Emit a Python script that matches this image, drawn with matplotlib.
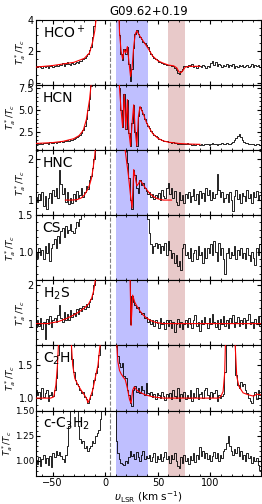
import numpy as np
import matplotlib
matplotlib.use('Agg')
import matplotlib.pyplot as plt
from matplotlib.ticker import MultipleLocator, AutoMinorLocator

# channel grid (km/s), 1.5 km/s steps
vel = np.arange(-66, 149, 1.5)

hco_spec = [1.05, 0.98, 1.08, 1.02, 0.95, 1.10, 1.00, 1.06, 0.92, 1.04, 1.12, 1.00,
            1.08, 1.15, 1.05, 1.20, 1.12, 1.25, 1.10, 1.18, 1.30, 1.22, 1.15, 1.25,
            1.20, 1.28, 1.35, 1.25, 1.40, 1.38, 1.50, 1.55, 1.70, 1.85, 2.05, 2.30,
            2.90, 3.60, 4.60, 6.0, 8.0, 9.0, 10, 10, 10, 10, 10, 10,
            10, 10, 10, 8.0, 5.5, 3.0, 1.80, 1.45, 2.15, 1.85, 2.30, 1.20,
            0.15, 0.90, 2.20, 3.10, 3.35, 3.10, 2.90, 2.75, 2.60, 2.50, 2.40, 2.25,
            2.00, 1.85, 1.70, 1.60, 1.50, 1.45, 1.35, 1.30, 1.25, 1.22, 1.18, 1.15,
            1.12, 1.15, 1.05, 1.08, 0.92, 0.80, 0.62, 0.58, 0.75, 0.90, 1.05, 1.10,
            1.02, 1.15, 1.05, 1.18, 1.00, 1.10, 0.95, 1.12, 1.05, 0.98, 1.15, 1.08,
            0.95, 1.10, 1.02, 1.25, 1.40, 1.15, 1.30, 1.05, 1.20, 1.12, 1.00, 1.15,
            1.08, 1.20, 0.98, 1.12, 1.05, 1.18, 0.95, 1.10, 1.02, 1.15, 1.05, 1.12,
            0.98, 1.10, 1.15, 1.02, 1.08, 1.20, 1.00, 1.12, 1.05, 1.15, 0.98, 1.10]
hco_fit_v = [-66, -50, -40, -30, -20, -15, -12, -10, -8, -5, 4, 10, 12, 13.5, 15, 16.5, 18, 19.5, 21,
             22.5, 24, 25.5, 27, 28.5, 30, 32, 35, 38, 41, 45, 50, 55, 60, 65, 68, 70, 72, 74, 76, 80, 90]
hco_fit = [1.0, 1.1, 1.2, 1.3, 1.55, 1.9, 2.6, 3.3, 4.5, 8, 15, 12, 6, 3.2, 2.0, 1.5, 2.1, 1.9, 2.3,
           1.3, 0.4, 1.0, 2.3, 3.1, 3.3, 3.05, 2.75, 2.45, 2.15, 1.7, 1.4, 1.25, 1.13, 1.08, 0.95, 0.7,
           0.65, 0.8, 1.0, 1.05, 1.05]

hcn_spec = [1.10, 1.18, 1.05, 1.20, 1.12, 1.25, 1.15, 1.22, 1.10, 1.28, 1.20, 1.25,
            1.30, 1.25, 1.35, 1.28, 1.40, 1.35, 1.45, 1.42, 1.50, 1.48, 1.55, 1.60,
            1.70, 1.75, 1.85, 2.00, 2.15, 2.40, 2.70, 3.20, 4.00, 5.00, 6.30, 7.80,
            9.5, 11, 13, 15, 16, 17, 17, 17, 17, 17, 17, 17,
            17, 16, 15, 14, 12, 7.5, 5.0, 3.0, 6.8, 2.8, 6.2, 2.4,
            0.85, 3.5, 5.6, 2.5, 0.85, 4.3, 5.4, 5.0, 4.5, 4.0, 3.5, 3.2,
            2.90, 2.60, 2.35, 2.15, 2.00, 1.85, 1.72, 1.62, 1.55, 1.48, 1.42, 1.38,
            1.32, 1.35, 1.25, 1.28, 1.18, 1.22, 1.10, 1.15, 1.08, 1.12, 1.05, 1.10,
            1.15, 1.05, 1.12, 1.02, 1.08, 1.00, 1.10, 1.05, 0.98, 1.08, 1.02, 1.10,
            1.05, 1.12, 1.00, 1.08, 1.15, 1.05, 1.10, 1.02, 1.12, 1.08, 1.15, 1.05,
            1.10, 1.18, 1.08, 1.12, 1.25, 1.35, 1.50, 1.75, 2.05, 2.25, 1.90, 1.50,
            1.30, 1.20, 1.15, 1.10, 1.12, 1.05, 1.08, 1.02, 1.10, 1.05, 1.00, 1.05]
hcn_fit_v = [-66, -50, -40, -30, -25, -21, -18, -15, -13, -10, 4, 12, 13.5, 15, 16.5, 18, 19.5, 21, 22.5,
             24, 25.5, 27, 28.5, 30, 31.5, 33, 36, 39, 42, 45, 50, 55, 60, 70, 80, 90]
hcn_fit = [1.15, 1.25, 1.4, 1.7, 2.05, 2.65, 3.9, 6.2, 8.5, 14, 20, 14, 7.5, 5.0, 3.0, 6.8, 2.8, 6.2, 2.4,
           0.85, 3.5, 5.6, 2.5, 0.85, 4.3, 5.4, 4.6, 3.6, 2.9, 2.3, 1.75, 1.45, 1.3, 1.15, 1.08, 1.05]

hnc_spec = [1.08, 0.95, 1.15, 1.00, 1.20, 0.85, 1.10, 0.78, 1.05, 1.18, 0.92, 1.25,
            1.10, 1.30, 1.05, 1.75, 1.40, 1.15, 1.30, 0.95, 1.20, 0.90, 1.05, 0.92,
            1.15, 0.98, 1.22, 1.05, 1.12, 1.30, 1.08, 1.20, 1.35, 1.28, 1.50, 1.60,
            1.78, 2.0, 2.4, 3, 3.5, 4, 4, 4, 4, 4, 4, 4,
            4, 4, 4, 4, 4, 4, 4, 4, 3.5, 2.4, 1.9, 1.55,
            1.00, 0.78, 1.75, 1.62, 1.30, 1.18, 1.50, 1.38, 1.42, 1.30, 1.22, 1.15,
            1.20, 1.08, 1.15, 1.02, 1.12, 1.05, 1.18, 1.00, 1.25, 1.10, 1.05, 1.30,
            1.42, 1.15, 1.30, 1.05, 1.22, 0.95, 0.88, 1.20, 1.00, 1.12, 0.92, 1.15,
            1.05, 1.20, 0.95, 1.10, 1.28, 1.00, 1.15, 0.90, 1.22, 1.05, 1.18, 0.98,
            1.30, 1.12, 1.25, 1.00, 1.20, 1.05, 1.15, 1.65, 1.25, 1.08, 1.20, 0.95,
            1.05, 1.15, 0.95, 1.20, 1.00, 0.72, 1.10, 1.25, 1.02, 1.15, 0.92, 1.18,
            1.10, 0.98, 1.25, 1.05, 1.15, 0.92, 1.20, 1.08, 1.22, 1.00, 1.12, 1.05]
hnc_fit_v1 = [-38, -32, -27, -23, -20, -17, -15, -13, -11.5, -10, -9]
hnc_fit1 = [1.0, 1.0, 1.01, 1.05, 1.12, 1.25, 1.37, 1.55, 1.8, 2.1, 2.4]
hnc_fit_v2 = [18, 20, 22, 24, 25.5, 27, 28.5, 30, 31.5, 33, 35, 38, 42, 46, 50, 55, 63]
hnc_fit2 = [2.4, 2.0, 1.6, 1.1, 0.8, 1.75, 1.55, 1.35, 1.4, 1.48, 1.42, 1.3, 1.17, 1.08, 1.03, 1.0, 1.0]

cs_spec = [0.98, 0.92, 1.05, 0.95, 1.02, 0.90, 1.08, 0.98, 1.12, 0.88, 1.05, 1.10,
           1.18, 1.05, 1.22, 1.12, 1.28, 1.32, 1.20, 1.35, 1.25, 1.30, 1.38, 1.28,
           1.25, 1.32, 1.40, 1.35, 1.45, 1.55, 2, 3, 3, 3, 3, 3,
           3, 3, 3, 3, 3, 3, 3, 3, 3, 3, 3, 3,
           3, 3, 3, 3, 3, 3, 3, 3, 3, 3, 3, 3,
           3, 3, 3, 3, 3, 3, 3, 3, 3, 3, 2.0, 1.45,
           1.25, 1.10, 0.98, 1.08, 1.12, 1.05, 1.10, 0.98, 1.08, 1.02, 1.12, 0.95,
           1.15, 1.02, 0.92, 0.98, 0.85, 0.95, 0.80, 0.88, 0.75, 1.05, 1.10, 0.95,
           1.00, 0.92, 1.05, 0.88, 0.98, 1.02, 0.90, 1.08, 0.95, 1.00, 0.85, 1.05,
           0.92, 1.05, 0.98, 1.10, 0.95, 1.15, 1.00, 0.88, 1.12, 0.95, 1.05, 0.90,
           0.70, 0.98, 1.05, 0.92, 1.00, 0.95, 1.08, 0.90, 1.02, 0.95, 1.05, 0.92,
           0.98, 0.90, 1.05, 0.95, 0.88, 1.00, 0.92, 0.82, 1.05, 0.95, 1.10, 1.00]

h2s_spec = [0.91, 1.10, 0.95, 1.15, 0.85, 1.05, 0.60, 1.12, 0.98, 1.20, 0.92, 1.08,
            1.15, 1.05, 1.22, 1.47, 1.15, 1.05, 1.30, 1.08, 1.25, 1.10, 1.35, 1.18,
            1.28, 1.20, 1.38, 1.25, 1.40, 1.32, 1.45, 1.38, 1.50, 1.43, 1.55, 1.62,
            1.77, 2.0, 2.5, 3, 3, 3, 3, 3, 3, 3, 3, 3,
            3, 3, 3, 3, 3, 3, 3, 3, 3, 3, 3, 3,
            1.00, 1.72, 1.55, 1.48, 1.40, 1.42, 1.30, 1.25, 1.28, 1.15, 1.18, 1.05,
            1.12, 1.00, 1.08, 0.95, 1.10, 1.02, 0.88, 1.15, 0.98, 1.05, 0.85, 1.08,
            0.95, 1.10, 0.90, 1.05, 0.78, 1.00, 1.12, 0.92, 1.05, 0.85, 1.00, 1.10,
            0.92, 1.15, 1.00, 0.88, 1.08, 1.22, 0.95, 1.05, 0.82, 1.10, 1.00, 1.18,
            1.02, 0.90, 1.15, 0.98, 1.25, 1.05, 0.92, 1.10, 0.85, 1.12, 1.00, 1.20,
            0.95, 1.08, 0.88, 1.15, 1.02, 1.22, 0.92, 1.05, 1.18, 0.95, 1.10, 1.00,
            1.15, 0.90, 1.08, 1.25, 0.98, 1.05, 0.88, 1.12, 1.00, 1.20, 0.95, 1.08]
h2s_fit_v = [-66, -55, -45, -37, -30, -25, -20, -16, -13, -11, -9, -7, 5, 20, 22, 23.5, 24.5, 26,
             28, 30, 32.5, 36, 39, 43, 48, 55, 148]
h2s_fit = [1.0, 1.0, 1.05, 1.13, 1.22, 1.3, 1.4, 1.5, 1.65, 1.85, 2.2, 3, 8, 6, 4, 2.2, 0.95, 1.73,
           1.55, 1.45, 1.34, 1.22, 1.15, 1.08, 1.03, 1.0, 1.0]

c2h_spec = [1.13, 1.05, 1.10, 0.98, 1.15, 1.02, 1.08, 1.12, 0.95, 1.05, 1.10, 1.03,
            1.12, 1.30, 1.65, 2.5, 3, 3, 3, 3, 3, 3, 3, 1.60,
            1.40, 1.28, 1.22, 1.18, 1.12, 1.08, 1.10, 1.02, 0.98, 0.92, 0.98, 1.05,
            1.15, 1.28, 1.38, 1.48, 1.65, 2.2, 3, 3, 3, 3, 3, 3,
            3, 3, 3, 1.90, 1.64, 1.54, 1.48, 1.54, 1.33, 1.30, 1.13, 1.05,
            0.92, 0.88, 1.12, 1.18, 1.10, 1.15, 1.08, 1.18, 1.12, 1.05, 1.23, 1.08,
            1.05, 1.10, 1.02, 1.06, 0.98, 1.08, 1.04, 1.00, 1.10, 1.03, 0.97, 1.06,
            1.02, 1.08, 0.98, 1.12, 1.03, 1.00, 1.15, 0.95, 1.06, 1.02, 1.10, 0.98,
            1.04, 1.00, 1.12, 0.96, 1.08, 1.02, 1.15, 0.98, 1.06, 1.10, 1.00, 1.12,
            1.15, 1.05, 0.98, 1.10, 1.02, 1.08, 1.12, 0.95, 1.05, 1.00, 1.03, 1.06,
            1.40, 3, 3, 3, 3, 3, 3, 1.35, 1.20, 1.15, 1.25, 1.18,
            1.22, 1.12, 1.08, 1.00, 0.95, 0.92, 1.05, 1.10, 0.98, 1.12, 1.05, 1.10]
c2h_fit_v = [-66, -52, -49, -47, -45.5, -44, -40, -36, -33, -31, -29, -26, -23, -20, -18, -16.5, -15,
             -12, -9, -7, -5, -4, 0, 9, 10.5, 12, 13.5, 15, 17, 19, 21, 23, 24.5, 26, 27.5, 30, 34, 38,
             45, 55, 100, 108, 110, 112, 113.5, 114.5, 118, 122, 123.5, 125, 127, 131, 136, 141, 144, 148]
c2h_fit = [1.0, 1.0, 1.02, 1.2, 1.5, 2.0, 3.0, 3.0, 2.0, 1.5, 1.3, 1.2, 1.12, 1.05, 1.0, 0.93, 0.98,
           1.12, 1.35, 1.5, 1.8, 2.2, 4, 4, 1.9, 1.55, 1.42, 1.37, 1.32, 1.28, 1.15, 0.98, 0.92, 1.12,
           1.17, 1.12, 1.08, 1.05, 1.02, 1.0, 1.0, 1.0, 1.03, 1.1, 1.38, 2, 3, 3, 1.8, 1.33, 1.18,
           1.08, 1.05, 1.03, 1.06, 1.05]

cc3h2_spec = [1.01, 0.97, 1.04, 0.95, 1.02, 1.06, 0.98, 1.03, 0.96, 1.05, 0.94, 1.08,
              1.04, 1.10, 1.06, 1.09, 1.05, 1.02, 0.99, 1.06, 1.15, 1.35, 1.70, 1.80,
              1.80, 1.80, 1.70, 1.35, 1.22, 1.18, 1.20, 1.13, 1.15, 1.10, 1.13, 1.15,
              1.20, 1.18, 1.25, 1.28, 1.31, 1.42, 1.60, 1.80, 1.80, 1.80, 1.80, 1.80,
              1.80, 1.80, 1.50, 1.20, 1.08, 1.02, 0.98, 0.97, 0.96, 1.00, 0.98, 1.04,
              1.10, 1.05, 1.07, 1.02, 1.09, 1.04, 1.00, 1.06, 1.10, 1.02, 1.05, 1.03,
              1.06, 1.00, 1.04, 1.08, 0.99, 1.05, 1.02, 1.07, 1.00, 1.04, 1.09, 1.02,
              1.05, 0.98, 1.06, 1.02, 1.08, 1.00, 0.95, 0.93, 1.04, 0.98, 1.06, 1.00,
              1.03, 0.97, 1.05, 1.01, 1.08, 0.99, 1.06, 1.02, 1.14, 1.05, 1.10, 1.03,
              1.08, 1.02, 1.06, 1.00, 1.05, 1.09, 1.03, 1.08, 1.00, 1.06, 1.03, 1.10,
              1.12, 1.18, 1.25, 1.15, 1.10, 1.06, 1.12, 1.08, 1.14, 1.05, 1.10, 1.02,
              1.06, 1.00, 1.08, 1.03, 1.05, 0.98, 1.04, 1.00, 1.03, 0.96, 0.91, 0.94]

names = ['HCO$^+$', 'HCN', 'HNC', 'CS', 'H$_2$S', 'C$_2$H', 'c-C$_3$H$_2$']
spectra = [hco_spec, hcn_spec, hnc_spec, cs_spec, h2s_spec, c2h_spec, cc3h2_spec]
fits = [[(hco_fit_v, hco_fit)], [(hcn_fit_v, hcn_fit)],
        [(hnc_fit_v1, hnc_fit1), (hnc_fit_v2, hnc_fit2)], [],
        [(h2s_fit_v, h2s_fit)], [(c2h_fit_v, c2h_fit)], []]
ylims = [(-0.12, 4.0), (0.4, 7.9), (0.63, 2.23), (0.61, 1.5), (0.44, 2.11), (0.81, 1.80), (0.85, 1.5)]
ysteps = [2, 2.5, 1, 0.5, 1, 0.5, 0.25]

v_sys = 4
blue_band = (10, 41)
red_band = (60, 76)

fig, axes = plt.subplots(7, 1, sharex=True, figsize=(2.62, 5.04), dpi=100)
plt.subplots_adjust(left=0.137, right=0.996, top=0.961, bottom=0.056, hspace=0)

for ax, name, spec, fit, yl, ys in zip(axes, names, spectra, fits, ylims, ysteps):
    ax.axvspan(*blue_band, color='blue', alpha=0.25, lw=0, zorder=0)
    ax.axvspan(*red_band, color='brown', alpha=0.25, lw=0, zorder=0)
    ax.axvline(v_sys, color='gray', ls='--', lw=0.8, zorder=1)
    ax.plot(vel, spec, color='black', lw=0.6, drawstyle='steps-mid', zorder=2)
    for fv, ff in fit:
        ax.plot(fv, ff, color='red', lw=0.8, zorder=3)
    ax.set_ylim(*yl)
    ax.yaxis.set_major_locator(MultipleLocator(ys))
    ax.yaxis.set_minor_locator(AutoMinorLocator())
    ax.xaxis.set_minor_locator(AutoMinorLocator())
    ax.tick_params(which='both', direction='in', top=True, right=True, labelsize=7, pad=1.5)
    ax.tick_params(which='major', length=3)
    ax.tick_params(which='minor', length=1.5)
    ax.set_ylabel(r'$T_a^*/T_c$', fontsize=6.5, labelpad=0)
    ax.text(0.03, 0.8, name, transform=ax.transAxes, fontsize=10, va='center', ha='left')

# narrower tick labels on the last panel so its y label fits
axes[-1].tick_params(axis='y', labelsize=6.3, pad=1)
axes[-1].set_ylabel(r'$T_a^*/T_c$', fontsize=6.3, labelpad=0)

axes[0].set_xlim(-66, 148)
axes[0].xaxis.set_major_locator(MultipleLocator(50))
axes[0].set_title('G09.62+0.19', fontsize=8.5, pad=3)
axes[-1].set_xlabel(r'$\upsilon_{\rm LSR}$ (km s$^{-1}$)', fontsize=7.5, labelpad=1)

fig.savefig('out.png', dpi=100)
